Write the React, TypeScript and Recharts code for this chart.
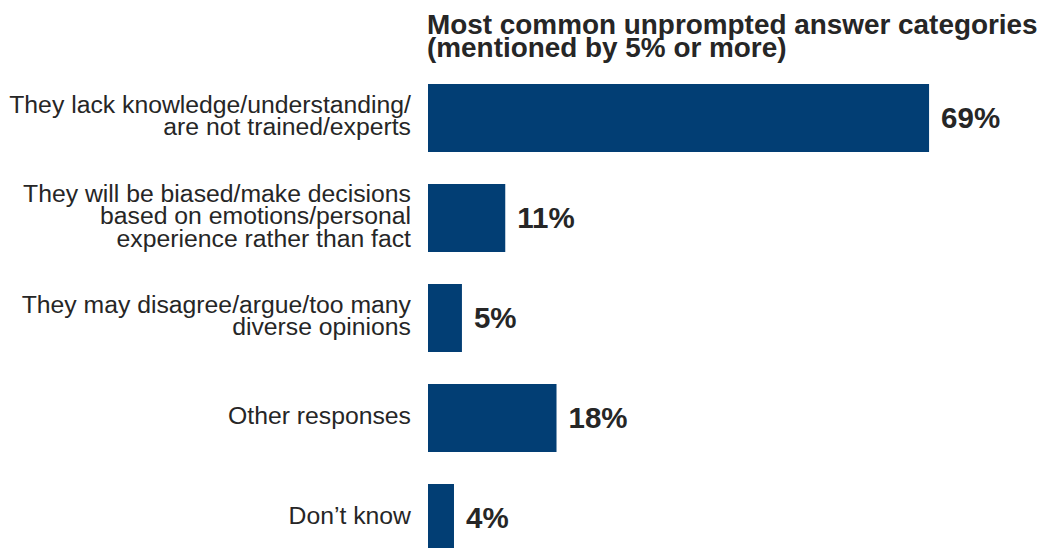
import React from "react";
import { BarChart, Bar, XAxis, YAxis, LabelList } from "recharts";

const categories: string[] = [
  "They lack knowledge/understanding/\nare not trained/experts",
  "They will be biased/make decisions\nbased on emotions/personal\nexperience rather than fact",
  "They may disagree/argue/too many\ndiverse opinions",
  "Other responses",
  "Don\u2019t know",
];
const values: number[] = [69.4, 10.7, 4.7, 17.8, 3.6];
const titleLines: string[] = [
  "Most common unprompted answer categories",
  "(mentioned by 5% or more)",
];

const data = categories.map((name, i) => ({ name, value: values[i] }));

const FONT = "'Liberation Sans', Arial, Helvetica, sans-serif";
const BAR_COLOR = "#023e74";
const TEXT_COLOR = "#262626";
const LINE_H = 22.5;

const CategoryTick = (props: any) => {
  const { x, y, payload } = props;
  const lines = String(payload.value).split("\n");
  const first = y - ((lines.length - 1) * LINE_H) / 2 + 6;
  return (
    <text
      x={x}
      y={first}
      textAnchor="end"
      fill={TEXT_COLOR}
      fontFamily={FONT}
      fontSize={24.75}
    >
      {lines.map((l, i) => (
        <tspan key={i} x={x} y={first + i * LINE_H}>
          {l}
        </tspan>
      ))}
    </text>
  );
};

const ValueLabel = (props: any) => {
  const { x, y, width, height, value } = props;
  return (
    <text
      x={x + width + 12}
      y={y + height / 2 + 10.3}
      textAnchor="start"
      fill={TEXT_COLOR}
      fontFamily={FONT}
      fontWeight="bold"
      fontSize={29.5}
    >
      {`${Math.round(value)}%`}
    </text>
  );
};

export default function App() {
  return (
    <div
      style={{
        position: "absolute",
        left: 0,
        top: 0,
        width: 1042,
        height: 548,
        overflow: "hidden",
        background: "#ffffff",
      }}
    >
      <svg
        width={1042}
        height={70}
        style={{ position: "absolute", left: 0, top: 0 }}
      >
        {titleLines.map((t, i) => (
          <text
            key={i}
            x={427}
            y={34 + i * 22.5}
            fill={TEXT_COLOR}
            fontFamily={FONT}
            fontWeight="bold"
            fontSize={27.9}
          >
            {t}
          </text>
        ))}
      </svg>
      <div style={{ position: "absolute", left: 0, top: 0 }}>
        <BarChart
          width={1042}
          height={568}
          data={data}
          layout="vertical"
          margin={{ top: 68, right: 36.4, bottom: 0, left: 0 }}
          barCategoryGap={32}
        >
          <XAxis type="number" domain={[0, 80]} hide />
          <YAxis
            type="category"
            dataKey="name"
            width={428}
            axisLine={false}
            tickLine={false}
            tickSize={0}
            tickMargin={17}
            interval={0}
            tick={<CategoryTick />}
          />
          <Bar
            dataKey="value"
            fill={BAR_COLOR}
            barSize={68}
            isAnimationActive={false}
          >
            <LabelList dataKey="value" content={<ValueLabel />} />
          </Bar>
        </BarChart>
      </div>
    </div>
  );
}
